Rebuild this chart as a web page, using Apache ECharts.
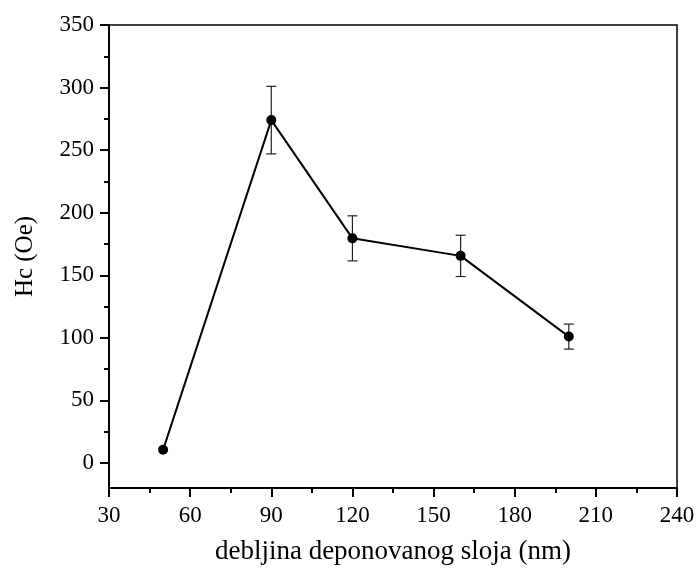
<!DOCTYPE html>
<html>
<head>
<meta charset="utf-8">
<script src="https://cdn.jsdelivr.net/npm/echarts@6/dist/echarts.min.js"></script>
<style>
  html, body { margin: 0; padding: 0; background: #fff; }
  #chart { width: 697px; height: 570px; }
</style>
</head>
<body>
<div id="chart"></div>
<script>
// debljina sloja (nm) / Hc (Oe)
const thickness = [50, 90, 120, 160, 200];
const hc = [10.5, 274, 179.5, 165.5, 101];
const hcErr = [0, 27, 18, 16.5, 10];
const yMajorTicks = [0, 50, 100, 150, 200, 250, 300, 350];
const yMinorTicks = [25, 75, 125, 175, 225, 275, 325];

const myChart = echarts.init(document.getElementById('chart'));
const font = 'Liberation Serif';

let lineData = thickness.map((x, i) => [x, hc[i]]);
let errData = thickness.map((x, i) => [x, hc[i] - hcErr[i], hc[i] + hcErr[i]]);

let option = {
  backgroundColor: '#fff',
  animation: false,
  grid: {
    left: 109, right: 20, top: 25, bottom: 82,
    outerBoundsMode: 'none',
    containLabel: false,
    show: true, borderColor: '#000', borderWidth: 1.5
  },
  xAxis: {
    type: 'value',
    min: 30, max: 240, interval: 30,
    name: 'debljina deponovanog sloja (nm)',
    nameLocation: 'middle',
    nameGap: 50,
    nameTextStyle: { fontFamily: font, fontSize: 27, color: '#000' },
    axisLine: { show: true, onZero: false, lineStyle: { color: '#000', width: 2 } },
    axisTick: { show: true, inside: false, length: 9, lineStyle: { color: '#000', width: 2 } },
    minorTick: { show: true, splitNumber: 2, length: 5, lineStyle: { color: '#000', width: 2 } },
    axisLabel: { fontFamily: font, fontSize: 23, color: '#000', margin: 16 },
    splitLine: { show: false }
  },
  yAxis: [{
    type: 'value',
    min: -20, max: 350,
    name: 'Hc (Oe)',
    nameLocation: 'middle',
    nameGap: 71,
    nameTextStyle: { fontFamily: font, fontSize: 25, color: '#000' },
    axisLine: { show: true, onZero: false, lineStyle: { color: '#000', width: 2 } },
    axisTick: { show: true, inside: false, length: 9, customValues: yMajorTicks, lineStyle: { color: '#000', width: 2 } },
    axisLabel: { fontFamily: font, fontSize: 23, color: '#000', margin: 15, customValues: yMajorTicks },
    splitLine: { show: false }
  }, {
    type: 'value',
    position: 'left',
    min: -20, max: 350,
    axisLine: { show: false, onZero: false },
    axisTick: { show: true, inside: false, length: 5, customValues: yMinorTicks, lineStyle: { color: '#000', width: 2 } },
    axisLabel: { show: false },
    splitLine: { show: false }
  }],
  series: [{
    type: 'custom',
    z: 1,
    data: errData,
    renderItem: function (params, api) {
      if (api.value(2) - api.value(1) <= 0) return;
      const lo = api.coord([api.value(0), api.value(1)]);
      const hi = api.coord([api.value(0), api.value(2)]);
      const w = 5;
      const style = { stroke: '#222', lineWidth: 1.2 };
      return {
        type: 'group',
        children: [
          { type: 'line', shape: { x1: lo[0], y1: lo[1], x2: hi[0], y2: hi[1] }, style: style },
          { type: 'line', shape: { x1: lo[0] - w, y1: lo[1], x2: lo[0] + w, y2: lo[1] }, style: style },
          { type: 'line', shape: { x1: hi[0] - w, y1: hi[1], x2: hi[0] + w, y2: hi[1] }, style: style }
        ]
      };
    }
  }, {
    type: 'line',
    z: 2,
    data: lineData,
    symbol: 'circle',
    symbolSize: 10,
    lineStyle: { color: '#000', width: 2 },
    itemStyle: { color: '#000' }
  }]
};
myChart.setOption(option);
</script>
</body>
</html>
